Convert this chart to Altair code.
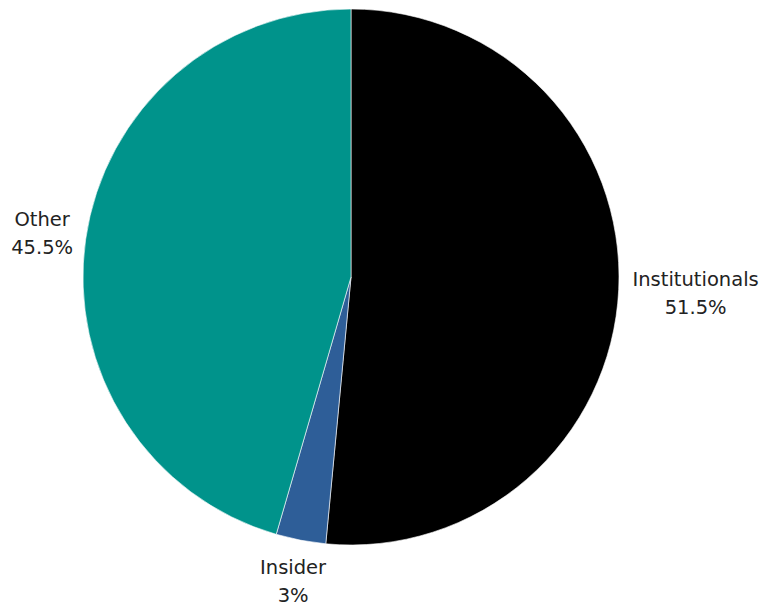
import altair as alt
import pandas as pd

categories = ["Institutionals", "Insider", "Other"]
shares = [51.5, 3.0, 45.5]
share_labels = ["51.5%", "3%", "45.5%"]
colors = ["#000000", "#2E5E98", "#00938B"]

df = pd.DataFrame({
    "category": categories,
    "share": shares,
    "label": share_labels,
    "order": list(range(len(categories))),
})
df["text"] = [[c, l] for c, l in zip(categories, share_labels)]

CX, CY, R = 343, 269, 268
theta_scale = alt.Scale(domain=[0, 100], range=[0, 6.283185307179586])

base = alt.Chart(df).transform_stack(
    stack="share", groupby=[], as_=["s0", "s1"], sort=[alt.SortField("order", order="ascending")]
).transform_calculate(mid="(datum.s0 + datum.s1) / 2")

pie = base.mark_arc(outerRadius=R, stroke="white", strokeWidth=0.6).encode(
    x=alt.value(CX), y=alt.value(CY),
    theta=alt.Theta("s0:Q", scale=theta_scale),
    theta2="s1:Q",
    color=alt.Color("category:N", scale=alt.Scale(domain=categories, range=colors), legend=None),
)

def label_layer(cat, radius):
    return base.transform_filter(alt.datum.category == cat).mark_text(
        radius=radius, align="center", baseline="middle", dy=-13,
        font="DejaVu Sans", fontSize=19.5, color="#222222", lineHeight=28,
    ).encode(
        x=alt.value(CX), y=alt.value(CY),
        theta=alt.Theta("mid:Q", scale=theta_scale),
        text="text",
    )

labels = alt.layer(
    label_layer("Institutionals", 345),
    label_layer("Other", 312),
    label_layer("Insider", 309),
)

chart = alt.layer(pie, labels).properties(
    width=763, height=595, padding=0, autosize=alt.AutoSizeParams(type="none"),
).configure_view(stroke=None)

chart.save("out.html", embed_options={"renderer": "svg", "actions": False})
